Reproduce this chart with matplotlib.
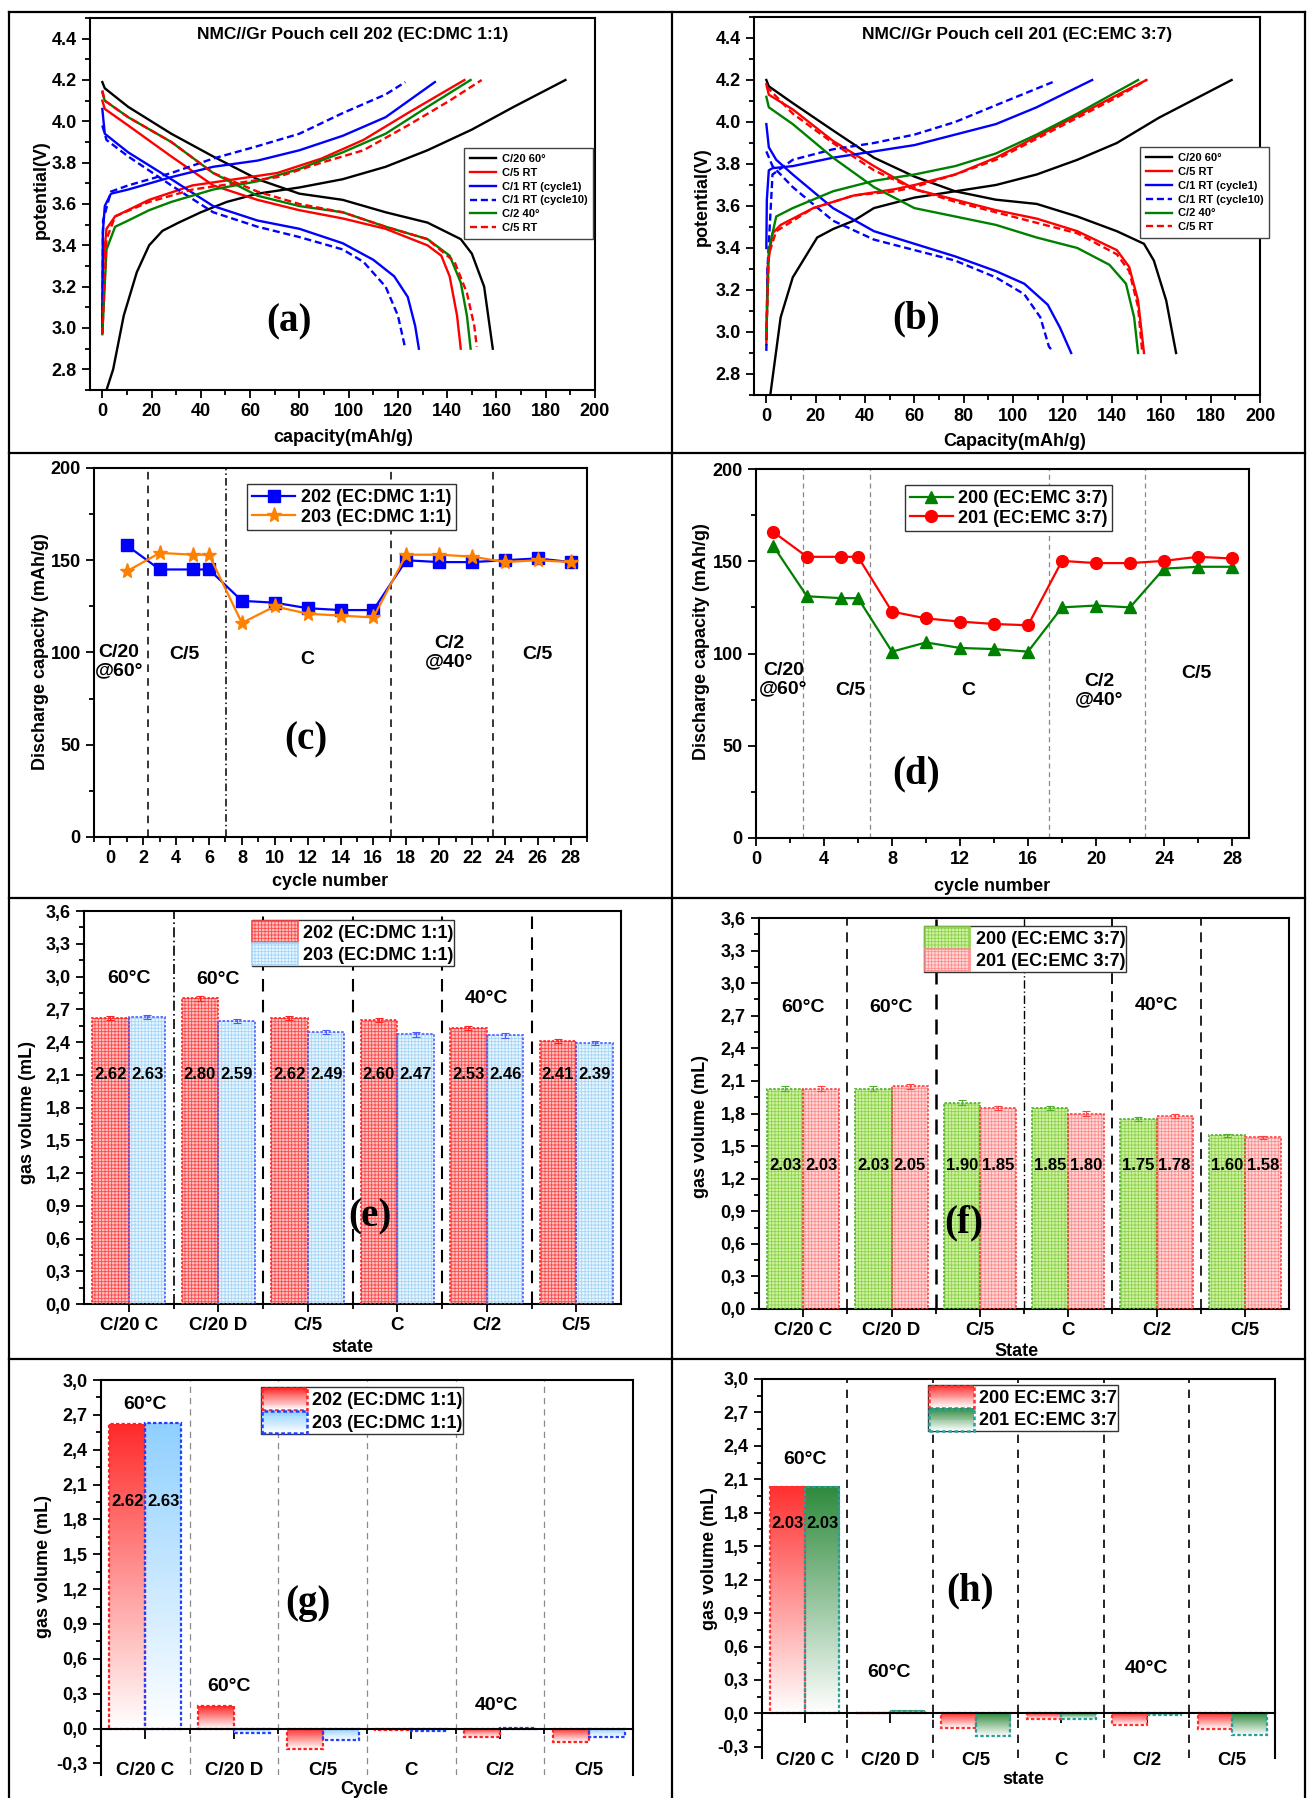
import numpy as np
import matplotlib
matplotlib.use('Agg')
import matplotlib.pyplot as plt
from matplotlib import font_manager
from matplotlib.patches import Rectangle, Patch
from matplotlib.legend_handler import HandlerBase
from matplotlib.lines import Line2D
from matplotlib.colors import LinearSegmentedColormap, to_rgb
from matplotlib.ticker import MultipleLocator, FixedLocator, FuncFormatter

# ---------------- DATA ----------------
# panel (a) cell 202 EC:DMC 1:1  (capacity mAh/g, potential V)
A_C20_CHG = [(1.7,2.70),(4.4,2.80),(8.7,3.06),(14,3.27),(19,3.40),(24.4,3.47),(31,3.51),(40,3.56),(50.5,3.61),(63,3.65),(80,3.68),(97.6,3.72),(115,3.78),(132,3.86),(150,3.96),(167,4.07),(188,4.20)]
A_C20_DIS = [(0,4.19),(1,4.16),(10.5,4.07),(28,3.94),(45,3.83),(63,3.72),(80,3.65),(97.6,3.62),(115,3.56),(132,3.51),(145.5,3.43),(150,3.36),(155,3.20),(158.5,2.90)]
A_C5_CHG = [(0,2.98),(0.3,3.30),(1.7,3.48),(5.2,3.54),(19,3.62),(36.6,3.69),(54,3.72),(71,3.75),(89,3.82),(106,3.91),(124,4.04),(147,4.20)]
A_C5_DIS = [(0,4.10),(1,4.06),(10.5,3.98),(28,3.83),(45,3.69),(63,3.62),(80,3.57),(97.6,3.53),(115,3.48),(132,3.40),(137.6,3.35),(141,3.25),(144,3.06),(145.5,2.90)]
A_C1_CHG = [(0,2.98),(0.2,3.46),(1,3.59),(3.5,3.65),(10.5,3.67),(28,3.73),(45,3.78),(63,3.81),(80,3.86),(97.6,3.93),(115,4.02),(135,4.19)]
A_C1_DIS = [(0,4.06),(1,3.94),(5.2,3.90),(10.5,3.85),(28,3.72),(45,3.59),(63,3.52),(80,3.48),(97.6,3.41),(110,3.33),(118.5,3.25),(124,3.15),(127,3.01),(128.5,2.90)]
A_C1B_CHG = [(0,2.98),(0.3,3.52),(3.5,3.66),(10.5,3.69),(28,3.75),(45,3.82),(63,3.88),(80,3.94),(97.6,4.04),(115,4.13),(123,4.19)]
A_C1B_DIS = [(0,3.98),(1.7,3.91),(10.5,3.83),(28,3.69),(45,3.56),(63,3.49),(80,3.44),(97.6,3.38),(106,3.32),(115,3.20),(120,3.06),(123,2.90)]
A_C2_CHG = [(0,2.97),(1.7,3.38),(5.2,3.49),(10.5,3.52),(19,3.57),(28,3.61),(45,3.67),(63,3.71),(80,3.77),(97.6,3.85),(115,3.94),(132,4.07),(149.5,4.20)]
A_C2_DIS = [(0,4.14),(1,4.10),(10.5,4.02),(28,3.90),(45,3.75),(63,3.64),(80,3.59),(97.6,3.56),(115,3.49),(132,3.43),(141,3.35),(145.5,3.22),(148,3.06),(149.5,2.90)]
A_C5B_CHG = [(0,2.97),(1.7,3.43),(5.2,3.54),(19,3.61),(36.6,3.67),(54,3.70),(71,3.73),(89,3.80),(106,3.86),(124,3.98),(141,4.10),(154,4.20)]
A_C5B_DIS = [(0,4.15),(1,4.10),(10.5,4.02),(28,3.90),(45,3.75),(63,3.66),(80,3.60),(97.6,3.56),(115,3.49),(132,3.43),(143,3.32),(148,3.17),(151,3.01),(152,2.91)]

# panel (b) cell 201 EC:EMC 3:7
B_C20_CHG = [(1.6,2.70),(5.8,3.07),(10.7,3.26),(20.6,3.45),(27,3.49),(35.4,3.53),(43.6,3.59),(60,3.64),(76.5,3.67),(93,3.70),(109.5,3.75),(126,3.82),(142,3.90),(159,4.02),(188.5,4.20)]
B_C20_DIS = [(0,4.20),(1,4.17),(10.7,4.09),(27,3.96),(43.6,3.83),(60,3.74),(76.5,3.67),(93,3.63),(109.5,3.61),(126,3.55),(142,3.48),(153,3.42),(157,3.34),(162,3.15),(166,2.90)]
B_C5_CHG = [(0,2.94),(0.5,3.31),(2.5,3.47),(5.8,3.51),(19,3.59),(35.4,3.65),(52,3.68),(60,3.70),(76.5,3.75),(93,3.83),(109.5,3.93),(126,4.03),(142.4,4.13),(154,4.20)]
B_C5_DIS = [(0,4.18),(1,4.13),(10.7,4.06),(27,3.91),(43.6,3.79),(60,3.68),(76.5,3.63),(93,3.58),(109.5,3.54),(126,3.48),(142,3.39),(147,3.31),(150.6,3.15),(153,2.90)]
B_C1_CHG = [(0,3.40),(0.2,3.63),(1,3.77),(2.5,3.78),(10.7,3.79),(27,3.83),(43.6,3.86),(60,3.89),(76.5,3.94),(93,3.99),(109.5,4.07),(132,4.20)]
B_C1_DIS = [(0,3.99),(1,3.88),(4,3.82),(10.7,3.75),(27,3.59),(43.6,3.48),(60,3.42),(76.5,3.36),(93,3.29),(104.5,3.23),(114,3.13),(119,3.02),(123.5,2.90)]
B_C1B_CHG = [(0,2.91),(0.5,3.31),(2.5,3.75),(10.7,3.82),(27,3.87),(43.6,3.90),(60,3.94),(76.5,4.00),(93,4.08),(116,4.19)]
B_C1B_DIS = [(0,3.86),(2.5,3.79),(10.7,3.69),(27,3.53),(43.6,3.44),(60,3.39),(76.5,3.34),(93,3.26),(104.5,3.18),(111,3.07),(114.5,2.93),(116,2.91)]
B_C2_CHG = [(0,2.97),(1,3.39),(4,3.55),(10.7,3.59),(27,3.67),(43.6,3.72),(60,3.75),(76.5,3.79),(93,3.85),(109.5,3.94),(126,4.04),(150.6,4.20)]
B_C2_DIS = [(0,4.12),(1,4.07),(10.7,3.99),(27,3.83),(43.6,3.69),(60,3.59),(76.5,3.55),(93,3.51),(109.5,3.45),(126,3.40),(139,3.32),(145.7,3.23),(149,3.07),(150.6,2.90)]
B_C5B_CHG = [(0,2.97),(1,3.37),(4,3.48),(19,3.59),(35.4,3.65),(52,3.67),(60,3.69),(76.5,3.75),(93,3.82),(109.5,3.92),(126,4.02),(142.4,4.12),(154,4.20)]
B_C5B_DIS = [(0,4.17),(10.7,4.04),(27,3.90),(43.6,3.77),(60,3.68),(76.5,3.62),(93,3.57),(109.5,3.52),(126,3.47),(142,3.37),(147,3.29),(150.6,3.12),(152.3,2.90)]

CURVE_LABELS = ['C/20 60°', 'C/5 RT', 'C/1 RT (cycle1)', 'C/1 RT (cycle10)', 'C/2 40°', 'C/5 RT']

# panel (c)
C_CYCLES = [1, 3, 5, 6, 8, 10, 12, 14, 16, 18, 20, 22, 24, 26, 28]
C_202 = [158, 145, 145, 145, 128, 127, 124, 123, 123, 150, 149, 149, 150, 151, 149]
C_203 = [144, 154, 153, 153, 116, 125, 121, 120, 119, 153, 153, 152, 149, 150, 149]
C_DIVIDERS = [2.27, 7.03, 17.1, 23.3]
C_REGIONS = ['C/20\n@60°', 'C/5', 'C', 'C/2\n@40°', 'C/5']

# panel (d)
D_CYCLES = [1, 3, 5, 6, 8, 10, 12, 14, 16, 18, 20, 22, 24, 26, 28]
D_200 = [158.5, 131, 130, 130, 101, 106, 103, 102.4, 101, 125, 126, 125, 146, 147, 147]
D_201 = [166, 152.4, 152.4, 152.4, 122.7, 119, 117.3, 116, 115.3, 150.2, 149, 149, 150.2, 152.4, 151.5]
D_DIVIDERS = [2.74, 6.7, 17.23, 22.9]

# bar panels
STATES = ['C/20 C', 'C/20 D', 'C/5', 'C', 'C/2', 'C/5']
E_202 = [2.62, 2.80, 2.62, 2.60, 2.53, 2.41]
E_203 = [2.63, 2.59, 2.49, 2.47, 2.46, 2.39]
E_ERR = [0.02, 0.02, 0.02, 0.02, 0.02, 0.015]
F_200 = [2.03, 2.03, 1.90, 1.85, 1.75, 1.60]
F_201 = [2.03, 2.05, 1.85, 1.80, 1.78, 1.58]
F_ERR = [0.02, 0.02, 0.02, 0.02, 0.02, 0.015]
G_202 = [2.62, 0.19, -0.18, -0.01, -0.07, -0.12]
G_203 = [2.63, -0.04, -0.10, -0.02, 0.005, -0.07]
H_200 = [2.03, 0.005, -0.13, -0.05, -0.10, -0.14]
H_201 = [2.03, 0.02, -0.20, -0.05, -0.015, -0.19]

# ---------------- STYLE ----------------
names = {f.name for f in font_manager.fontManager.ttflist}
SANS = 'Liberation Sans Narrow' if 'Liberation Sans Narrow' in names else 'Liberation Sans'
plt.rcParams['font.family'] = [SANS, 'DejaVu Sans']
plt.rcParams['font.weight'] = 'bold'
plt.rcParams['axes.labelweight'] = 'bold'
plt.rcParams['hatch.linewidth'] = 0.6
SERIF = 'Liberation Serif'

W, H = 1308, 1798
fig = plt.figure(figsize=(W / 100, H / 100), dpi=100)


def px_ax(l, r, t, b):
    return fig.add_axes([l / W, 1 - b / H, (r - l) / W, (b - t) / H])


def ftext(x, y, s, rot=0, size=13):
    fig.text(x / W, 1 - y / H, s, ha='center', va='center', rotation=rot,
             fontsize=size, fontweight='bold')


def fline(xs, ys):
    fig.add_artist(Line2D([x / W for x in xs], [1 - y / H for y in ys],
                          color='black', lw=1.6, transform=fig.transFigure))


def base_style(ax, size=13):
    for sp in ax.spines.values():
        sp.set_linewidth(1.5)
    ax.tick_params(which='both', direction='out', width=1.3, top=False, right=False,
                   labelsize=size)
    ax.tick_params(which='major', length=6)
    ax.tick_params(which='minor', length=3.5)


def big_label(ax, x, y, s):
    ax.text(x, y, s, family=SERIF, fontsize=28, fontweight='bold',
            ha='center', va='center', zorder=6)


comma = FuncFormatter(lambda v, p: f'{round(v, 2):.1f}'.replace('.', ',').replace('-0,0', '0,0'))

# frame lines
fline([8.5, 1305], [12, 12])
fline([8.5, 8.5], [12, 1798])
fline([1305, 1305], [12, 1798])
fline([672, 672], [12, 1798])
for yy in (453, 898, 1359):
    fline([8.5, 1305], [yy, yy])

# ---------------- (a) & (b) ----------------
STY = [('black', '-'), ('#ff0000', '-'), ('#0000ff', '-'), ('#0000ff', (0, (3, 1.6))),
       ('#008000', '-'), ('#ff0000', (0, (3, 1.6)))]


def voltage_panel(box, curves, title, tag, tagpos, leg_anchor, xl, xlpos, ylpos):
    ax = px_ax(*box)
    base_style(ax)
    for (chg, dis), (c, ls), lab in zip(curves, STY, CURVE_LABELS):
        x, y = zip(*chg)
        ax.plot(x, y, color=c, ls=ls, lw=1.7, label=lab)
        x, y = zip(*dis)
        ax.plot(x, y, color=c, ls=ls, lw=1.7)
    ax.set_xlim(-5, 200)
    ax.set_ylim(2.7, 4.5)
    ax.xaxis.set_major_locator(MultipleLocator(20))
    ax.xaxis.set_minor_locator(MultipleLocator(10))
    ax.yaxis.set_major_locator(FixedLocator([2.8, 3.0, 3.2, 3.4, 3.6, 3.8, 4.0, 4.2, 4.4]))
    ax.yaxis.set_minor_locator(MultipleLocator(0.1))
    ax.yaxis.set_major_formatter(FuncFormatter(lambda v, p: f'{v:.1f}'))
    ax.text(0.52, 0.955, title, transform=ax.transAxes, ha='center', va='center', fontsize=12.5)
    leg = ax.legend(loc='upper left', bbox_to_anchor=leg_anchor, fontsize=8, handlelength=2.4,
                    fancybox=False, edgecolor='#444444', framealpha=1, borderpad=0.5,
                    labelspacing=0.35, handletextpad=0.5)
    leg.get_frame().set_linewidth(1.0)
    big_label(ax, tagpos[0], tagpos[1], tag)
    ftext(xlpos[0], xlpos[1], xl)
    ftext(ylpos[0], ylpos[1], 'potential(V)', rot=90)
    return ax


voltage_panel((90, 595, 18, 390),
              [(A_C20_CHG, A_C20_DIS), (A_C5_CHG, A_C5_DIS), (A_C1_CHG, A_C1_DIS),
               (A_C1B_CHG, A_C1B_DIS), (A_C2_CHG, A_C2_DIS), (A_C5B_CHG, A_C5B_DIS)],
              'NMC//Gr Pouch cell 202 (EC:DMC 1:1)', '(a)', (75.8, 3.03), (0.73, 0.665),
              'capacity(mAh/g)', (343, 438), (41, 190))
voltage_panel((754, 1260, 17, 395),
              [(B_C20_CHG, B_C20_DIS), (B_C5_CHG, B_C5_DIS), (B_C1_CHG, B_C1_DIS),
               (B_C1B_CHG, B_C1B_DIS), (B_C2_CHG, B_C2_DIS), (B_C5B_CHG, B_C5B_DIS)],
              'NMC//Gr Pouch cell 201 (EC:EMC 3:7)', '(b)', (60.6, 3.06), (0.752, 0.67),
              'Capacity(mAh/g)', (1015, 442), (702, 197))

# ---------------- (c) ----------------
ax = px_ax(94, 587, 468, 837)
base_style(ax)
ax.plot(C_CYCLES, C_202, color='#0000ff', marker='s', ms=8, lw=1.6,
        label='202 (EC:DMC 1:1)', zorder=4)
ax.plot(C_CYCLES, C_203, color='#ff8000', marker='*', ms=11, lw=1.6,
        label='203 (EC:DMC 1:1)', zorder=4)
for xv, ls in zip(C_DIVIDERS, [(0, (5, 4)), (0, (5, 2, 1, 2)), (0, (5, 4)), (0, (5, 4))]):
    ax.axvline(xv, color='black', lw=1.1, ls=ls, zorder=1)
ax.set_xlim(-1, 29)
ax.set_ylim(0, 200)
ax.xaxis.set_major_locator(MultipleLocator(2))
ax.xaxis.set_minor_locator(MultipleLocator(1))
ax.yaxis.set_major_locator(MultipleLocator(50))
ax.yaxis.set_minor_locator(MultipleLocator(25))
for (xx, yy), s in zip([(0.5, 95), (4.5, 99), (12.0, 96), (20.6, 100), (26.0, 99)], C_REGIONS):
    ax.text(xx, yy, s, ha='center', va='center', fontsize=14, linespacing=1.1)
leg = ax.legend(loc='upper left', bbox_to_anchor=(0.293, 0.98), fontsize=13, handlelength=2.4,
                fancybox=False, edgecolor='#333333', framealpha=1, borderpad=0.25,
                labelspacing=0.15, handletextpad=0.3)
leg.get_frame().set_linewidth(1.0)
big_label(ax, 11.9, 52.5, '(c)')
ftext(330, 882, 'cycle number')
ftext(41, 652, 'Discharge capacity (mAh/g)', rot=90)

# ---------------- (d) ----------------
ax = px_ax(756, 1249, 469, 838)
base_style(ax)
ax.plot(D_CYCLES, D_200, color='#008000', marker='^', ms=9, lw=1.6,
        label='200 (EC:EMC 3:7)', zorder=4)
ax.plot(D_CYCLES, D_201, color='#ff0000', marker='o', ms=8.5, lw=1.6,
        label='201 (EC:EMC 3:7)', zorder=4)
for xv in D_DIVIDERS:
    ax.axvline(xv, color='#888888', lw=0.9, ls=(0, (4, 3)), zorder=1)
ax.set_xlim(0, 29)
ax.set_ylim(0, 200)
ax.xaxis.set_major_locator(MultipleLocator(4))
ax.xaxis.set_minor_locator(MultipleLocator(2))
ax.yaxis.set_major_locator(MultipleLocator(50))
ax.yaxis.set_minor_locator(MultipleLocator(25))
for (xx, yy), s in zip([(1.6, 86), (5.55, 80), (12.5, 80), (20.2, 80), (25.9, 88.9)], C_REGIONS):
    ax.text(xx, yy, s, ha='center', va='center', fontsize=14, linespacing=1.1)
leg = ax.legend(loc='upper left', bbox_to_anchor=(0.284, 0.98), fontsize=13, handlelength=2.4,
                fancybox=False, edgecolor='#333333', framealpha=1, borderpad=0.25,
                labelspacing=0.15, handletextpad=0.3)
leg.get_frame().set_linewidth(1.0)
big_label(ax, 9.4, 35, '(d)')
ftext(992, 887, 'cycle number')
ftext(702, 642, 'Discharge capacity (mAh/g)', rot=90)


# ---------------- hatched bar panels (e), (f) ----------------
def hatched_panel(box, v1, v2, err, s1, s2, labels, lab_y, divs, temps, leg_anchor, tag, tagpos,
                  xl, xlpos, ylpos):
    ax = px_ax(*box)
    base_style(ax)
    x = np.arange(len(STATES))
    w = 0.41
    handles = []
    for vals, off, (face, hcol, ocol), lab in zip((v1, v2), (-w / 2, w / 2), (s1, s2), labels):
        ax.bar(x + off, vals, w, color=face, edgecolor=hcol, hatch='+++++', lw=0, zorder=2)
        ax.bar(x + off, vals, w, fill=False, edgecolor=ocol, lw=1.2, ls=(0, (1.5, 1)), zorder=3)
        ax.errorbar(x + off, vals, yerr=err, fmt='none', ecolor=ocol, capsize=3, lw=0.8,
                    capthick=0.8, zorder=4)
        for xi, v in zip(x + off, vals):
            ax.text(xi, lab_y, f'{v:.2f}', ha='center', va='center', fontsize=12, zorder=5)
        handles.append(Patch(facecolor=face, edgecolor=hcol, hatch='+++++', lw=1.2, label=lab))
    for xv, ls, lw in divs:
        ax.axvline(xv, color='black', lw=lw, ls=ls, zorder=1)
    for xx, yy, s in temps:
        ax.text(xx, yy, s, ha='center', va='center', fontsize=14)
    ax.set_xlim(-0.5, 5.5)
    ax.set_ylim(0, 3.6)
    ax.set_xticks(x)
    ax.set_xticklabels(STATES, fontsize=13.5)
    ax.xaxis.set_minor_locator(FixedLocator(x[:-1] + 0.5))
    ax.yaxis.set_major_locator(MultipleLocator(0.3))
    ax.yaxis.set_minor_locator(MultipleLocator(0.15))
    ax.yaxis.set_major_formatter(comma)
    leg = ax.legend(handles=handles, loc='upper left', bbox_to_anchor=leg_anchor, fontsize=13,
                    handlelength=2.5, handleheight=1.5, fancybox=False, edgecolor='#333333',
                    framealpha=1, borderpad=0.05, labelspacing=0.0, handletextpad=0.3,
                    borderaxespad=0)
    leg.get_frame().set_linewidth(1.0)
    big_label(ax, tagpos[0], tagpos[1], tag)
    ftext(xlpos[0], xlpos[1], xl)
    ftext(ylpos[0], ylpos[1], 'gas volume (mL)', rot=90)


DASH = (0, (6, 4))
DASHDOT = (0, (6, 2, 1, 2))
hatched_panel((84, 621, 911, 1304), E_202, E_203, E_ERR,
              ('#ffc2c2', '#ff4a4a', '#ff2020'), ('#e9f6ff', '#a6d6f7', '#4a5cff'),
              ['202 (EC:DMC 1:1)', '203 (EC:DMC 1:1)'], 2.1,
              [(0.5, DASHDOT, 1.2), (1.5, DASH, 1.5), (2.5, DASH, 1.5), (3.5, DASH, 1.5), (4.5, DASH, 1.5)],
              [(0, 2.98, '60°C'), (1, 2.97, '60°C'), (4, 2.80, '40°C')],
              (0.312, 0.978), '(e)', (2.7, 0.8), 'state', (352, 1347), (28, 1113))
hatched_panel((759, 1289, 918, 1309), F_200, F_201, F_ERR,
              ('#d0f2a4', '#8ed14c', '#4cb02a'), ('#ffdada', '#ff8c8c', '#ff4040'),
              ['200 (EC:EMC 3:7)', '201 (EC:EMC 3:7)'], 1.32,
              [(0.5, DASH, 1.2), (1.5, DASH, 1.8), (2.5, DASHDOT, 1.0), (3.5, DASH, 1.3), (4.5, DASH, 1.2)],
              [(0, 2.78, '60°C'), (1, 2.78, '60°C'), (4, 2.79, '40°C')],
              (0.312, 0.98), '(f)', (1.82, 0.79), 'State', (1017, 1352), (700, 1127))


# ---------------- gradient bar panels (g), (h) ----------------
class GradHandler(HandlerBase):
    def __init__(self, color, edge):
        super().__init__()
        self.color = np.array(to_rgb(color))
        self.edge = edge

    def create_artists(self, legend, orig_handle, xdescent, ydescent, width, height,
                       fontsize, trans):
        arts = []
        n = 24
        for i in range(n):
            f = (i + 0.5) / n
            c = (1 - f) * np.ones(3) + f * self.color
            arts.append(Rectangle((-xdescent, -ydescent + height * i / n), width,
                                  height / n * 1.05, facecolor=c, edgecolor='none',
                                  transform=trans))
        arts.append(Rectangle((-xdescent, -ydescent), width, height, facecolor='none',
                              edgecolor=self.edge, lw=1.8, ls=(0, (1.5, 1)), transform=trans))
        return arts


def gradient_panel(box, v1, v2, c1, c2, labels, lab_y, div_style, temps, leg_anchor, tag,
                   tagpos, xl, xlpos, ylpos, pad):
    ax = px_ax(*box)
    base_style(ax)
    x = np.arange(len(STATES))
    w = 0.405
    grad = np.linspace(0, 1, 256).reshape(-1, 1)
    handles, hmap = [], {}
    for vals, off, (top, edge), lab in zip((v1, v2), (-w / 2, w / 2), (c1, c2), labels):
        cmap = LinearSegmentedColormap.from_list('g', ['white', top])
        bars = ax.bar(x + off, vals, w, fill=False, edgecolor=edge, lw=1.6,
                      ls=(0, (1.5, 1)), zorder=3)
        for b in bars:
            x0 = b.get_x()
            y0, hh = b.get_y(), b.get_height()
            lo, hi = min(y0, y0 + hh), max(y0, y0 + hh)
            ax.imshow(grad, extent=[x0, x0 + b.get_width(), lo, hi], origin='lower',
                      aspect='auto', cmap=cmap, zorder=2, interpolation='bilinear')
        ax.text(x[0] + off, lab_y, f'{vals[0]:.2f}', ha='center', va='center', fontsize=12,
                zorder=5)
        hd = Patch(facecolor=top, label=lab)
        handles.append(hd)
        hmap[hd] = GradHandler(top, edge)
    for xv in x[:-1] + 0.5:
        ax.axvline(xv, zorder=1, **div_style)
    for xx, yy, s in temps:
        ax.text(xx, yy, s, ha='center', va='center', fontsize=14)
    ax.set_xlim(-0.5, 5.5)
    ax.set_ylim(-0.4, 3.0)
    ax.spines['bottom'].set_position(('data', 0))
    ax.spines['bottom'].set_zorder(4)
    ax.set_xticks(x)
    ax.set_xticklabels(STATES, fontsize=13.5)
    ax.xaxis.set_minor_locator(FixedLocator(x[:-1] + 0.5))
    ax.tick_params(axis='x', which='major', length=7, pad=pad)
    ax.yaxis.set_major_locator(MultipleLocator(0.3))
    ax.yaxis.set_minor_locator(MultipleLocator(0.15))
    ax.yaxis.set_major_formatter(comma)
    leg = ax.legend(handles=handles, handler_map=hmap, loc='upper left',
                    bbox_to_anchor=leg_anchor, fontsize=13, handlelength=2.5,
                    handleheight=1.5, fancybox=False, edgecolor='#333333', framealpha=1,
                    borderpad=0.05, labelspacing=0.05, handletextpad=0.3, borderaxespad=0)
    leg.get_frame().set_linewidth(1.0)
    big_label(ax, tagpos[0], tagpos[1], tag)
    ftext(xlpos[0], xlpos[1], xl)
    ftext(ylpos[0], ylpos[1], 'gas volume (mL)', rot=90)


gradient_panel((101, 633, 1380, 1775), G_202, G_203,
               ('#ff2a2a', '#ff2020'), ('#8fd0ff', '#2040ff'),
               ['202 (EC:DMC 1:1)', '203 (EC:DMC 1:1)'], 1.95,
               dict(color='#8a8a8a', lw=0.9, ls=(0, (5, 4))),
               [(0, 2.79, '60°C'), (0.94, 0.36, '60°C'), (3.96, 0.20, '40°C')],
               (0.30, 0.982), '(g)', (1.83, 1.08), 'Cycle', (364, 1790), (43, 1567), 17)
gradient_panel((762, 1275, 1379, 1758), H_200, H_201,
               ('#ff3030', '#ff3030'), ('#2e8a3c', '#2a9d9d'),
               ['200 EC:EMC 3:7', '201 EC:EMC 3:7'], 1.70,
               dict(color='black', lw=1.2, ls=(0, (5, 4))),
               [(0, 2.28, '60°C'), (0.98, 0.37, '60°C'), (4.0, 0.40, '40°C')],
               (0.323, 0.985), '(h)', (1.93, 1.1), 'state', (1023, 1779), (710, 1558), 21)

fig.savefig('out.png', dpi=100)
